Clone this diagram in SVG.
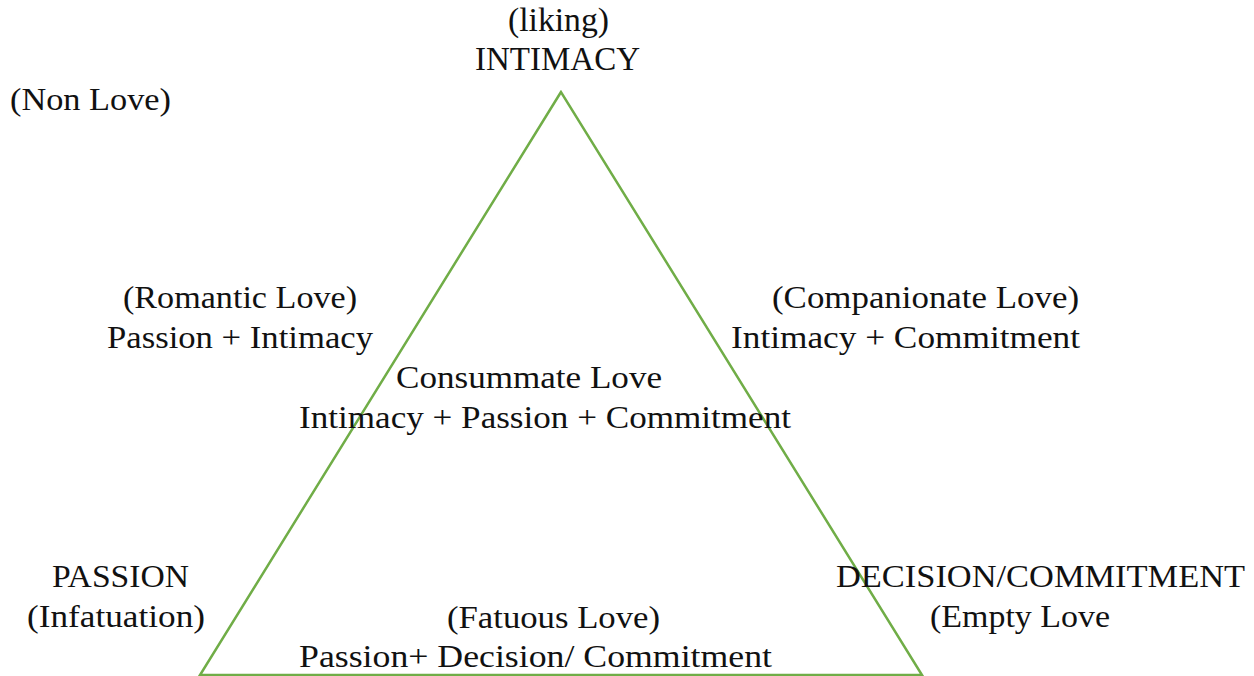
<svg xmlns="http://www.w3.org/2000/svg" width="1254" height="676" viewBox="0 0 1254 676">
<style>
text{font-family:"Liberation Serif","Times New Roman",serif;font-size:32px;fill:#111;}
.big{font-size:33px;}
.tri{fill:none;stroke:#70AD47;stroke-width:2.5;stroke-linejoin:miter;}
</style>
<rect width="1254" height="676" fill="#fff"/>
<g id="triangle"><polygon class="tri" points="561,92 200,675 922,675"/></g>
<g id="intimacy">
<text class="big" x="508" y="31" textLength="101" lengthAdjust="spacingAndGlyphs">(liking)</text>
<text class="big" x="475" y="70" textLength="165" lengthAdjust="spacingAndGlyphs">INTIMACY</text>
</g>
<g id="nonlove"><text x="10" y="110" textLength="161" lengthAdjust="spacingAndGlyphs">(Non Love)</text></g>
<g id="romantic">
<text x="123" y="308" textLength="234" lengthAdjust="spacingAndGlyphs">(Romantic Love)</text>
<text x="107" y="348" textLength="266" lengthAdjust="spacingAndGlyphs">Passion + Intimacy</text>
</g>
<g id="companionate">
<text x="772" y="308" textLength="307" lengthAdjust="spacingAndGlyphs">(Companionate Love)</text>
<text x="731" y="348" textLength="349" lengthAdjust="spacingAndGlyphs">Intimacy + Commitment</text>
</g>
<g id="consummate">
<text x="396" y="388" textLength="266" lengthAdjust="spacingAndGlyphs">Consummate Love</text>
<text x="299" y="428" textLength="492" lengthAdjust="spacingAndGlyphs">Intimacy + Passion + Commitment</text>
</g>
<g id="passion">
<text x="52" y="587" textLength="137" lengthAdjust="spacingAndGlyphs">PASSION</text>
<text x="27" y="627" textLength="178" lengthAdjust="spacingAndGlyphs">(Infatuation)</text>
</g>
<g id="commitment">
<text x="836" y="587" textLength="409" lengthAdjust="spacingAndGlyphs">DECISION/COMMITMENT</text>
<text x="930" y="627" textLength="180" lengthAdjust="spacingAndGlyphs">(Empty Love</text>
</g>
<g id="fatuous">
<text x="447" y="628" textLength="213" lengthAdjust="spacingAndGlyphs">(Fatuous Love)</text>
<text x="299" y="667" textLength="473" lengthAdjust="spacingAndGlyphs">Passion+ Decision/ Commitment</text>
</g>
</svg>
